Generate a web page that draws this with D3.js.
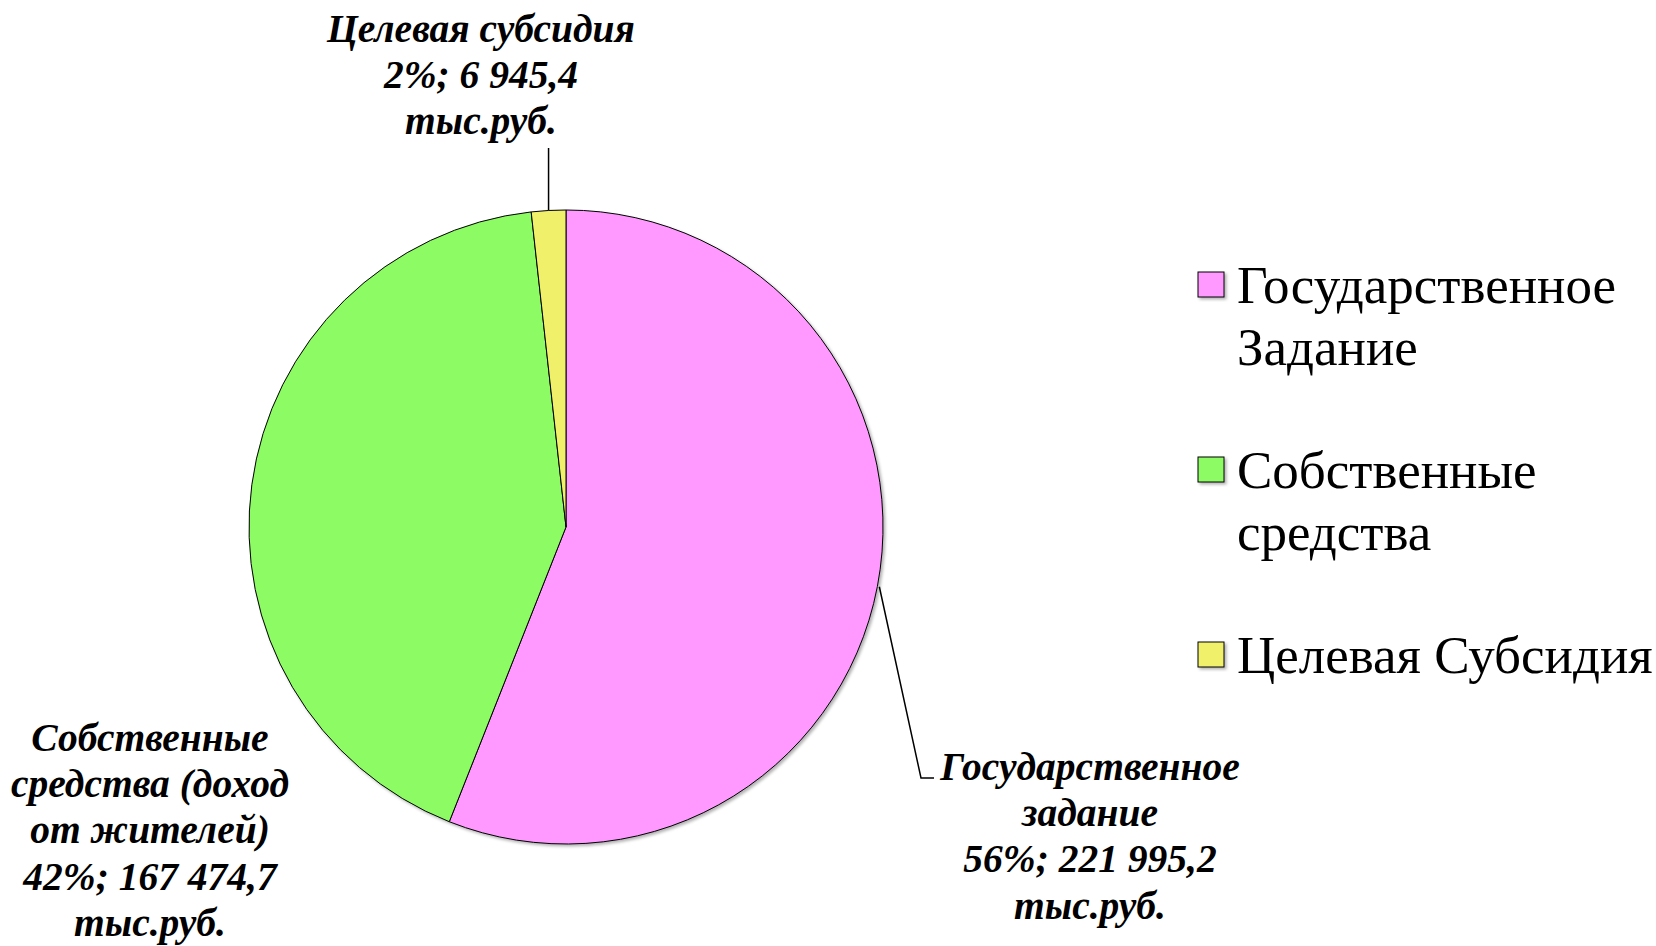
<!DOCTYPE html>
<html><head><meta charset="utf-8">
<script src="https://cdn.jsdelivr.net/npm/d3@7"></script>
<style>body{margin:0;background:#fff}</style>
</head><body><svg id="c" width="1656" height="946"></svg>
<script>
const categories = ["Государственное Задание", "Собственные средства", "Целевая Субсидия"];
const values = [221995.2, 167474.7, 6945.4];
const percents = ["56%", "42%", "2%"];
const valueTexts = ["221 995,2", "167 474,7", "6 945,4"];
const unitText = "тыс.руб.";
const labelNames = [["Государственное", "задание"], ["Собственные", "средства (доход", "от жителей)"], ["Целевая субсидия"]];
const legendLines = [["Государственное", "Задание"], ["Собственные", "средства"], ["Целевая Субсидия"]];
const colors = ["#FF99FF", "#8DFB64", "#F0F06A"];

const FONT = "'Times New Roman', Tinos, serif";
const svg = d3.select("#c");
const cx = 566, cy = 527, R = 317;
const g = svg.append("g").attr("transform", `translate(${cx},${cy})`);

const pie = d3.pie().sort(null).value(d => d)(values);
const arc = d3.arc().innerRadius(0).outerRadius(R);

const defs = svg.append("defs");
const f = defs.append("filter").attr("id", "sh").attr("x", "-10%").attr("y", "-10%").attr("width", "130%").attr("height", "130%");
f.append("feDropShadow").attr("dx", 2).attr("dy", 2).attr("stdDeviation", 1.5).attr("flood-color", "#000").attr("flood-opacity", 0.3);

g.append("g").attr("filter", "url(#sh)").selectAll("path").data(pie).join("path")
  .attr("d", arc).attr("fill", (d, i) => colors[i])
  .attr("stroke", "#000").attr("stroke-width", 1).attr("stroke-linejoin", "round");

// leader lines
const outerPt = (d, r) => { const a = (d.startAngle + d.endAngle) / 2; return [r * Math.sin(a), -r * Math.cos(a)]; };
const pPink = outerPt(pie[0], R + 2);
g.append("path").attr("fill", "none").attr("stroke", "#000").attr("stroke-width", 1.5)
  .attr("d", d3.line()([[pPink[0], pPink[1]], [921 - cx, 778 - cy], [934 - cx, 778 - cy]]));
const pY = outerPt(pie[2], R);
g.append("path").attr("fill", "none").attr("stroke", "#000").attr("stroke-width", 1.5)
  .attr("d", d3.line()([[pY[0], pY[1]], [pY[0], 148 - cy]]));

// data labels (x center, first baseline)
const labelPos = [[1090, 780], [150, 751], [481, 42]];
const lh = 46.2;
pie.forEach((d, i) => {
  const lines = labelNames[i].concat([percents[i] + "; " + valueTexts[i], unitText]);
  const t = svg.append("text").attr("text-anchor", "middle")
    .attr("font-family", FONT)
    .attr("font-style", "italic").attr("font-weight", "bold").attr("font-size", 39.5).attr("fill", "#000");
  lines.forEach((l, k) => {
    t.append("tspan").attr("x", labelPos[i][0]).attr("y", labelPos[i][1] + k * lh).text(l);
  });
});

// legend
const legY = [303, 488, 673];
const lg = svg.append("g");
categories.forEach((c, i) => {
  lg.append("rect").attr("x", 1198).attr("y", legY[i] - 31).attr("width", 26).attr("height", 25)
    .attr("fill", colors[i]).attr("stroke", "#000").attr("stroke-width", 1).attr("filter", "url(#sh)");
  const t = lg.append("text").attr("font-family", FONT)
    .attr("font-size", 53).attr("fill", "#000");
  legendLines[i].forEach((l, k) => {
    t.append("tspan").attr("x", 1237).attr("y", legY[i] + k * 62).text(l);
  });
});
</script></body></html>
